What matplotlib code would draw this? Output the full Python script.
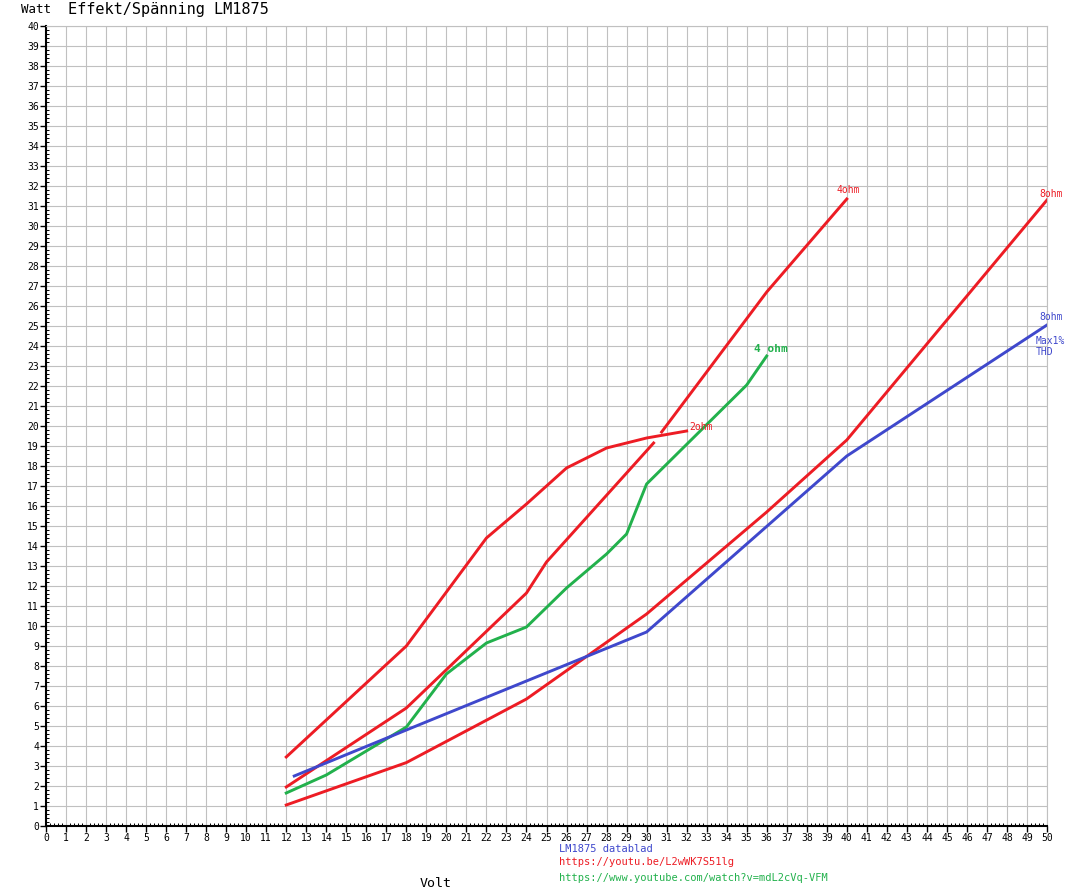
import matplotlib
matplotlib.use("Agg")
from matplotlib import pyplot as plt
from matplotlib.ticker import MultipleLocator

RED = '#ed1c24'
GREEN = '#22b14c'
BLUE = '#3f48cc'
GRID = '#c0c0c0'
FONT = 'DejaVu Sans Mono'

# 2 ohm (youtube L2wWK7S51lg)
v_2ohm = [12, 18, 22, 24, 26, 28, 30, 32]
w_2ohm = [3.45, 9.0, 14.4, 16.1, 17.9, 18.9, 19.4, 19.75]

# 4 ohm, red, two pieces
v_4ohm_a = [12, 18, 24, 25, 30.35]
w_4ohm_a = [1.95, 5.9, 11.65, 13.2, 19.15]
v_4ohm_b = [30.75, 36, 40]
w_4ohm_b = [19.7, 26.7, 31.35]

# 8 ohm, red
v_8ohm = [12, 18, 24, 30, 36, 40, 50]
w_8ohm = [1.05, 3.17, 6.35, 10.6, 15.7, 19.3, 31.3]

# 4 ohm, green (youtube mdL2cVq-VFM)
v_4ohm_g = [12, 14, 18, 20, 22, 24, 26, 28, 29, 30, 35, 36]
w_4ohm_g = [1.65, 2.55, 4.95, 7.6, 9.15, 9.95, 11.9, 13.6, 14.6, 17.1, 22.05, 23.5]

# 8 ohm datasheet, max 1% THD
v_ds = [12.4, 18, 30, 40, 50]
w_ds = [2.5, 4.8, 9.7, 18.5, 25.05]

fig = plt.figure(figsize=(10.74, 8.96), dpi=100)
ax = fig.add_axes([46/1074, 70/896, 1001/1074, 800/896])

lw = 2.1
ax.plot(v_2ohm, w_2ohm, color=RED, lw=lw)
ax.plot(v_4ohm_a, w_4ohm_a, color=RED, lw=lw)
ax.plot(v_4ohm_b, w_4ohm_b, color=RED, lw=lw)
ax.plot(v_8ohm, w_8ohm, color=RED, lw=lw)
ax.plot(v_4ohm_g, w_4ohm_g, color=GREEN, lw=lw)
ax.plot(v_ds, w_ds, color=BLUE, lw=lw)

# labels at line ends
ax.text(32.15, 19.95, '2ohm', color=RED, fontsize=7, family=FONT, va='center')
ax.text(39.5, 31.55, '4ohm', color=RED, fontsize=7, family=FONT, va='bottom')
ax.text(49.6, 31.35, '8ohm', color=RED, fontsize=7, family=FONT, va='bottom')
ax.text(35.35, 23.85, '4 ohm', color=GREEN, fontsize=8, family=FONT,
        fontweight='bold', va='center')
ax.text(49.6, 25.2, '8ohm', color=BLUE, fontsize=7, family=FONT, va='bottom')
ax.text(49.45, 24.25, 'Max1%', color=BLUE, fontsize=7, family=FONT, va='center')
ax.text(49.45, 23.7, 'THD', color=BLUE, fontsize=7, family=FONT, va='center')

ax.set_xlim(0, 50)
ax.set_ylim(0, 40)
ax.xaxis.set_major_locator(MultipleLocator(1))
ax.yaxis.set_major_locator(MultipleLocator(1))
ax.xaxis.set_minor_locator(MultipleLocator(0.2))
ax.yaxis.set_minor_locator(MultipleLocator(0.2))
ax.grid(True, which='major', color=GRID, lw=0.8)
ax.set_axisbelow(True)
ax.tick_params(which='major', direction='out', length=4, width=1, labelsize=7, pad=1)
ax.tick_params(which='minor', direction='in', length=2.5, width=0.7)
ax.tick_params(top=False, right=False, which='both')
for lab in ax.get_xticklabels() + ax.get_yticklabels():
    lab.set_family(FONT)
for s in ['top', 'right']:
    ax.spines[s].set_color(GRID)
    ax.spines[s].set_linewidth(0.8)
for s in ['left', 'bottom']:
    ax.spines[s].set_linewidth(1.5)

fig.text(21/1074, 0.989, 'Watt', fontsize=9, family=FONT, va='center')
fig.text(68/1074, 0.989, 'Effekt/Spänning LM1875', fontsize=11, family=FONT, va='center')
fig.text(436/1074, 1 - 883/896, 'Volt', fontsize=9.5, family=FONT, ha='center', va='center')

fig.text(559/1074, 1 - 849/896, 'LM1875 datablad', color=BLUE, fontsize=7.5, family=FONT, va='center')
fig.text(559/1074, 1 - 862/896, 'https://youtu.be/L2wWK7S51lg', color=RED, fontsize=7.5, family=FONT, va='center')
fig.text(559/1074, 1 - 878/896, 'https://www.youtube.com/watch?v=mdL2cVq-VFM', color=GREEN, fontsize=7.5, family=FONT, va='center')

plt.savefig('out.png', dpi=100)
